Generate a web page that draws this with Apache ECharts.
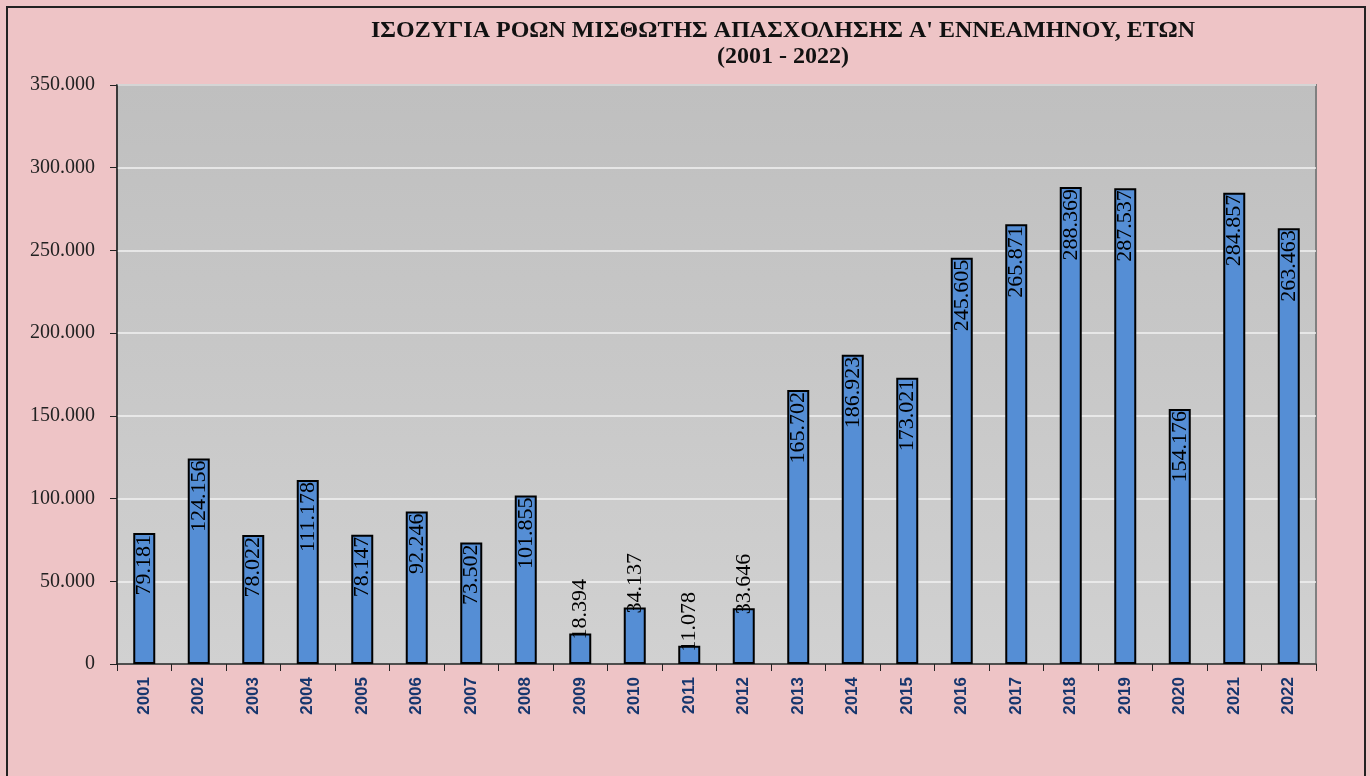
<!DOCTYPE html>
<html>
<head>
<meta charset="utf-8">
<script src="https://cdn.jsdelivr.net/npm/echarts@6/dist/echarts.min.js"></script>
<style>
  html, body { margin: 0; padding: 0; background: #eec4c6; }
  #chart { width: 1370px; height: 776px; }
</style>
</head>
<body>
<div id="chart"></div>
<script>
// years and balance of flows (Jan-Sep)
const years = ['2001', '2002', '2003', '2004', '2005', '2006', '2007', '2008', '2009', '2010', '2011',
  '2012', '2013', '2014', '2015', '2016', '2017', '2018', '2019', '2020', '2021', '2022']
const balance = [79181, 124156, 78022, 111178, 78147, 92246, 73502, 101855, 18394, 34137, 11078,
  33646, 165702, 186923, 173021, 245605, 265871, 288369, 287537, 154176, 284857, 263463]
const yTicks = [0, 50000, 100000, 150000, 200000, 250000, 300000, 350000]

// 1234567 -> 1.234.567
const fmt = (v) => String(v).replace(/\B(?=(\d{3})+(?!\d))/g, '.')

const myChart = echarts.init(document.getElementById('chart'))

const barData = balance.map((v) => {
  // small bars get their label above the bar
  if (v < 40000) {
    return { value: v, label: { position: 'top', align: 'left', distance: -6 } }
  }
  return v
})

const option = {
  backgroundColor: '#eec4c6',
  animation: false,
  title: {
    text: 'ΙΣΟΖΥΓΙΑ ΡΟΩΝ ΜΙΣΘΩΤΗΣ ΑΠΑΣΧΟΛΗΣΗΣ Α\' ΕΝΝΕΑΜΗΝΟΥ, ΕΤΩΝ\n(2001 - 2022)',
    left: 778,
    top: 13,
    textAlign: 'center',
    textStyle: {
      fontFamily: 'Liberation Serif',
      fontWeight: 'bold',
      fontSize: 24,
      lineHeight: 26,
      color: '#111'
    }
  },
  graphic: [{
    type: 'rect',
    shape: { x: 7, y: 7, width: 1358, height: 780 },
    style: { fill: 'none', stroke: '#222', lineWidth: 2 },
    silent: true
  }],
  grid: {
    left: 117,
    right: 54,
    top: 85,
    bottom: 112,
    show: true,
    borderColor: '#808080',
    borderWidth: 2,
    backgroundColor: new echarts.graphic.LinearGradient(0, 0, 0, 1, [
      { offset: 0, color: '#bfbfbf' },
      { offset: 1, color: '#d1d1d1' }
    ])
  },
  xAxis: {
    type: 'category',
    data: years,
    axisLine: { lineStyle: { color: '#222', width: 1.5 } },
    axisTick: { show: true, length: 7, lineStyle: { color: '#222' } },
    axisLabel: {
      rotate: 90,
      margin: 13,
      fontFamily: 'Liberation Sans',
      fontWeight: 'bold',
      fontSize: 17,
      color: '#17366e'
    }
  },
  yAxis: {
    type: 'value',
    min: 0,
    max: 350000,
    interval: 50000,
    axisLine: { show: true, lineStyle: { color: '#222', width: 1.5 } },
    axisTick: { show: true, length: 7, lineStyle: { color: '#222' } },
    splitLine: { lineStyle: { color: '#f2f2f2', width: 1.5 } },
    axisLabel: {
      margin: 22,
      fontFamily: 'Liberation Serif',
      fontSize: 20,
      color: '#222',
      customValues: yTicks,
      formatter: (v) => fmt(v)
    }
  },
  series: [{
    type: 'bar',
    data: barData,
    barWidth: 22,
    itemStyle: {
      color: '#558ed5',
      borderColor: '#000',
      borderWidth: 2
    },
    label: {
      show: true,
      position: 'insideTop',
      rotate: 90,
      align: 'right',
      verticalAlign: 'middle',
      distance: 2,
      fontFamily: 'Liberation Serif',
      fontSize: 22,
      color: '#000',
      formatter: (p) => fmt(p.value)
    }
  }]
}
myChart.setOption(option)

window.addEventListener('resize', () => {
  myChart.resize()
})
</script>
</body>
</html>
